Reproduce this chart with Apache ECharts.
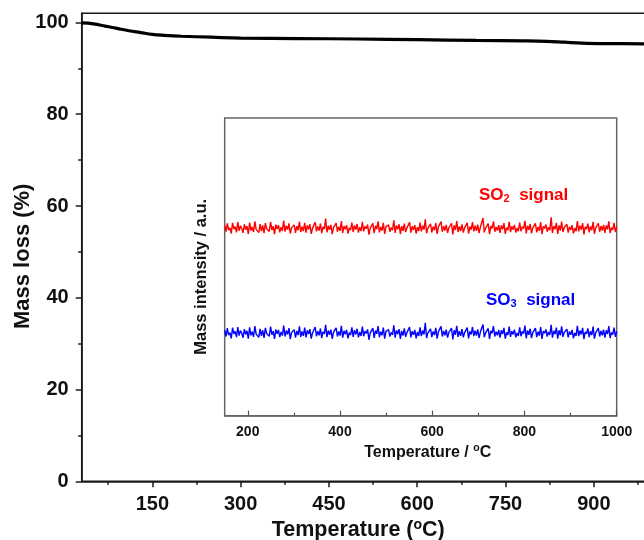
<!DOCTYPE html>
<html>
<head>
<meta charset="utf-8">
<script src="https://cdn.jsdelivr.net/npm/echarts@6/dist/echarts.min.js"></script>
<style>html,body{margin:0;padding:0;background:#fff}#c{width:644px;height:540px}</style>
</head>
<body>
<div id="c"></div>
<script>
// Main TGA curve (temperature °C, mass %)
var tgaTemp = [30, 50, 70, 90, 110, 130, 150, 170, 200, 250, 300, 400, 500, 600, 700, 780, 820, 850, 880, 920, 1000];
var tgaMass = [99.9, 99.7, 99.2, 98.7, 98.2, 97.8, 97.4, 97.2, 97.0, 96.8, 96.6, 96.5, 96.4, 96.25, 96.1, 96.0, 95.9, 95.7, 95.5, 95.4, 95.35];

var mainXTicks = [150, 300, 450, 600, 750, 900];
var mainXMinor = [75, 225, 375, 525, 675, 825, 975];
var mainYTicks = [0, 20, 40, 60, 80, 100];
var mainYMinor = [10, 30, 50, 70, 90];
var insetXTicks = [200, 400, 600, 800, 1000];
var insetXMinor = [300, 500, 700, 900];

// Inset MS signals (arbitrary units), sampled uniformly from 150 to 1000 °C
var so2Signal = [
63.9,61.8,64.6,62.3,63.1,61.2,64.8,62.7,63.5,61.6,65.0,62.1,63.8,62.9,61.4,64.3,62.5,63.7,61.1,64.9,
62.2,63.4,61.7,65.3,62.6,63.0,61.5,64.4,62.0,63.9,61.3,64.7,62.8,63.2,61.9,65.1,62.4,63.6,61.0,64.2,
62.7,64.0,61.6,63.3,62.1,65.5,61.8,63.8,62.5,64.6,61.2,63.1,62.9,64.1,61.4,63.7,62.3,65.2,61.7,63.5,
62.0,64.8,61.5,63.9,62.6,64.3,61.1,63.0,62.8,65.0,61.9,63.6,62.2,64.5,61.3,63.4,62.7,66.2,61.6,63.8,
62.4,64.1,61.0,63.2,62.9,64.7,61.8,63.5,62.1,65.4,61.4,63.7,62.6,64.0,61.2,63.1,62.3,64.9,61.7,63.9,
62.5,64.4,61.5,63.3,62.0,65.1,61.9,63.6,62.8,64.2,60.8,63.0,62.4,64.6,61.3,63.8,62.7,65.3,61.6,63.4,
62.2,64.8,61.1,63.5,62.9,64.1,61.8,63.2,62.3,65.6,61.4,63.9,62.6,64.3,61.0,63.7,62.1,64.5,61.7,63.1,
62.8,65.0,61.5,63.6,62.4,64.0,61.2,63.3,62.0,64.9,61.9,63.8,62.5,66.0,61.3,63.0,62.7,64.4,61.6,63.5,
62.3,64.7,61.1,63.4,62.9,65.2,61.8,63.7,62.2,64.1,61.4,63.2,62.6,64.6,60.9,63.9,62.4,65.4,61.7,63.6,
62.0,64.3,61.5,63.1,62.8,64.8,61.2,63.5,62.5,65.0,61.9,63.8,62.1,64.2,61.3,63.3,62.7,66.4,61.6,63.0,
62.4,64.5,61.0,63.7,62.9,65.3,61.8,63.4,62.2,64.0,61.4,63.9,62.6,64.7,61.1,63.2,62.3,65.1,61.7,63.6,
62.5,64.1,61.5,63.0,62.0,64.9,61.9,63.5,62.8,65.5,61.2,63.8,62.4,64.4,61.3,63.1,62.7,64.6,61.6,63.4,
62.1,65.0,61.0,63.6,62.9,64.2,61.8,63.3,62.3,66.6,61.4,63.7,62.6,64.8,61.1,63.9,62.2,65.2,61.7,63.2,
62.8,64.3,61.5,63.5,62.4,64.0,61.2,63.0,62.0,65.4,61.9,63.8,62.5,64.7,60.9,63.4,62.7,64.5,61.6,63.6,
62.3,65.1,61.1,63.1,62.9,64.6,61.8,63.7,62.2,64.1,61.4,63.9,62.6,65.3,61.3,63.2,62.4,64.8,61.7,63.5
];
var so3Signal = [
28.7,26.6,29.4,27.1,27.9,26.0,29.6,27.5,28.3,26.4,29.8,26.9,28.6,27.7,26.2,29.1,27.3,28.5,25.9,29.7,
27.0,28.2,26.5,30.1,27.4,27.8,26.3,29.2,26.8,28.7,26.1,29.5,27.6,28.0,26.7,29.9,27.2,28.4,25.8,29.0,
27.5,28.8,26.4,28.1,26.9,30.3,26.6,28.6,27.3,29.4,25.7,27.9,27.7,28.9,26.2,28.5,27.1,30.0,26.5,28.3,
26.8,29.6,26.3,28.7,27.4,29.1,25.9,27.8,27.6,29.8,26.7,28.4,27.0,29.3,26.1,28.2,27.5,30.5,26.4,28.6,
27.2,28.9,25.8,28.0,27.7,29.5,26.6,28.3,26.9,30.2,26.2,28.5,27.4,28.8,26.0,27.9,27.1,29.7,26.5,28.7,
27.3,29.2,26.3,28.1,26.8,29.9,26.7,28.4,27.6,29.0,25.5,27.8,27.2,29.4,26.1,28.6,27.5,30.1,26.4,28.2,
27.0,29.6,25.9,28.3,27.7,28.9,26.6,28.0,27.1,30.4,26.2,28.7,27.4,29.1,25.8,28.5,26.9,29.3,26.5,27.9,
27.6,29.8,26.3,28.4,27.2,28.8,26.0,28.1,26.8,29.7,26.7,28.6,27.3,31.2,26.1,27.8,27.5,29.2,26.4,28.3,
27.1,29.5,25.9,28.2,27.7,30.0,26.6,28.5,27.0,28.9,26.2,28.0,27.4,29.4,25.6,28.7,27.2,30.2,26.5,28.4,
26.8,29.1,26.3,27.9,27.6,29.6,26.0,28.3,27.3,29.8,26.7,28.6,26.9,29.0,26.1,28.1,27.5,30.6,26.4,27.8,
27.2,29.3,25.8,28.5,27.7,30.1,26.6,28.2,27.0,28.8,26.2,28.7,27.4,29.5,25.9,28.0,27.1,29.9,26.5,28.4,
27.3,28.9,26.3,27.8,26.8,29.7,26.7,28.3,27.6,30.3,26.0,28.6,27.2,29.2,26.1,27.9,27.5,29.4,26.4,28.2,
26.9,29.8,25.8,28.4,27.7,29.0,26.6,28.1,27.1,30.5,26.2,28.5,27.4,29.6,25.9,28.7,27.0,30.0,26.5,28.0,
27.6,29.1,26.3,28.3,27.2,28.8,26.0,27.8,26.8,30.2,26.7,28.6,27.3,29.5,25.7,28.2,27.5,29.3,26.4,28.4,
27.1,29.9,25.9,27.9,27.7,29.4,26.6,28.5,27.0,28.9,26.2,28.7,27.4,30.1,26.1,28.0,27.2,29.6,26.5,28.3
];
var insetStart = 150, insetEnd = 1000;

function sampled(arr) {
  var n = arr.length, out = [];
  for (var i = 0; i < n; i++) out.push([insetStart + i * (insetEnd - insetStart) / (n - 1), arr[i]]);
  return out;
}
var tgaData = tgaTemp.map(function (t, i) { return [t, tgaMass[i]]; });
var plain = function (v) { return String(v); };

var FONT = '"Liberation Sans", Arial, sans-serif';
var chart = echarts.init(document.getElementById('c'), null, {renderer: 'canvas'});
chart.setOption({
  animation: false,
  backgroundColor: '#fff',
  grid: [
    {left: 81.7, top: 13.3, right: -8.7, bottom: 58.7, outerBoundsMode: 'none', containLabel: false,
     show: true, borderColor: '#1a1a1a', borderWidth: 1.5, backgroundColor: 'transparent'},
    {left: 224.7, top: 118, right: 27.3, bottom: 124.3, outerBoundsMode: 'none', containLabel: false,
     show: true, borderColor: '#666', borderWidth: 1.5, backgroundColor: '#fff'}
  ],
  xAxis: [
    {gridIndex: 0, type: 'value', min: 30, max: 1000, position: 'bottom',
     name: 'Temperature ({sup|o}C)', nameLocation: 'middle', nameGap: 37, nameMoveOverlap: false,
     nameTextStyle: {fontFamily: FONT, fontWeight: 'bold', fontSize: 21.5, color: '#111', padding: [0, 18, 0, 0], lineHeight: 24,
       rich: {sup: {fontFamily: FONT, fontWeight: 'bold', fontSize: 14, color: '#111', verticalAlign: 'top', lineHeight: 12}}},
     axisLine: {lineStyle: {color: '#1a1a1a', width: 1.6}},
     axisTick: {show: true, length: 6, inside: false, customValues: mainXTicks, lineStyle: {color: '#1a1a1a', width: 1.5}},
     axisLabel: {customValues: mainXTicks, formatter: plain, margin: 13, fontFamily: FONT, fontWeight: 'bold', fontSize: 20, color: '#111'},
     splitLine: {show: false}},
    {gridIndex: 0, type: 'value', min: 30, max: 1000, position: 'bottom',
     axisLine: {show: false},
     axisTick: {show: true, length: 3.5, inside: false, customValues: mainXMinor, lineStyle: {color: '#1a1a1a', width: 1.5}},
     axisLabel: {show: false}, splitLine: {show: false}},
    {gridIndex: 1, type: 'value', min: insetStart, max: insetEnd, position: 'bottom',
     name: 'Temperature / {sup|o}C', nameLocation: 'middle', nameGap: 27, nameMoveOverlap: false,
     nameTextStyle: {fontFamily: FONT, fontWeight: 'bold', fontSize: 16, color: '#111', padding: [0, 0, 0, 14], lineHeight: 19,
       rich: {sup: {fontFamily: FONT, fontWeight: 'bold', fontSize: 10.5, color: '#111', verticalAlign: 'top', lineHeight: 10}}},
     axisLine: {lineStyle: {color: '#666', width: 1.5}},
     axisTick: {show: true, length: 5, inside: true, customValues: insetXTicks, lineStyle: {color: '#555', width: 1.2}},
     axisLabel: {customValues: insetXTicks, formatter: plain, margin: 9, fontFamily: FONT, fontWeight: 'bold', fontSize: 14, color: '#111'},
     splitLine: {show: false}},
    {gridIndex: 1, type: 'value', min: insetStart, max: insetEnd, position: 'bottom',
     axisLine: {show: false},
     axisTick: {show: true, length: 3, inside: true, customValues: insetXMinor, lineStyle: {color: '#555', width: 1.2}},
     axisLabel: {show: false}, splitLine: {show: false}}
  ],
  yAxis: [
    {gridIndex: 0, type: 'value', min: 0, max: 102, position: 'left',
     name: 'Mass loss (%)', nameLocation: 'middle', nameGap: 48, nameRotate: 90, nameMoveOverlap: false,
     nameTextStyle: {fontFamily: FONT, fontWeight: 'bold', fontSize: 22, color: '#111', padding: [0, 18, 0, 0]},
     axisLine: {lineStyle: {color: '#1a1a1a', width: 1.6}},
     axisTick: {show: true, length: 6, inside: false, customValues: mainYTicks, lineStyle: {color: '#1a1a1a', width: 1.5}},
     axisLabel: {customValues: mainYTicks, formatter: plain, margin: 13, fontFamily: FONT, fontWeight: 'bold', fontSize: 20, color: '#111'},
     splitLine: {show: false}},
    {gridIndex: 0, type: 'value', min: 0, max: 102, position: 'left',
     axisLine: {show: false},
     axisTick: {show: true, length: 3.5, inside: false, customValues: mainYMinor, lineStyle: {color: '#1a1a1a', width: 1.5}},
     axisLabel: {show: false}, splitLine: {show: false}},
    {gridIndex: 1, type: 'value', min: 0, max: 100, position: 'left',
     name: 'Mass intensity / a.u.', nameLocation: 'middle', nameGap: 14.5, nameRotate: 90, nameMoveOverlap: false,
     nameTextStyle: {fontFamily: FONT, fontWeight: 'bold', fontSize: 16.5, color: '#111', padding: [0, 20, 0, 0]},
     axisLine: {show: false}, axisTick: {show: false}, axisLabel: {show: false}, splitLine: {show: false}}
  ],
  graphic: [
    {type: 'text', left: 479, top: 187, z: 10,
     style: {text: 'SO{sub|2}  signal', fill: '#ff0000', font: 'bold 17px ' + FONT,
       rich: {sub: {fontSize: 11, fontWeight: 'bold', fontFamily: FONT, fill: '#ff0000', verticalAlign: 'bottom', lineHeight: 11}}}},
    {type: 'text', left: 486, top: 292, z: 10,
     style: {text: 'SO{sub|3}  signal', fill: '#0000ff', font: 'bold 17px ' + FONT,
       rich: {sub: {fontSize: 11, fontWeight: 'bold', fontFamily: FONT, fill: '#0000ff', verticalAlign: 'bottom', lineHeight: 11}}}}
  ],
  series: [
    {type: 'line', xAxisIndex: 0, yAxisIndex: 0, data: tgaData, smooth: 0.4, showSymbol: false,
     lineStyle: {color: '#000', width: 3.2}},
    {type: 'line', xAxisIndex: 2, yAxisIndex: 2, data: sampled(so2Signal), showSymbol: false,
     lineStyle: {color: '#ff0000', width: 1.4}},
    {type: 'line', xAxisIndex: 2, yAxisIndex: 2, data: sampled(so3Signal), showSymbol: false,
     lineStyle: {color: '#0000ff', width: 1.4}}
  ]
});
</script>
</body>
</html>
